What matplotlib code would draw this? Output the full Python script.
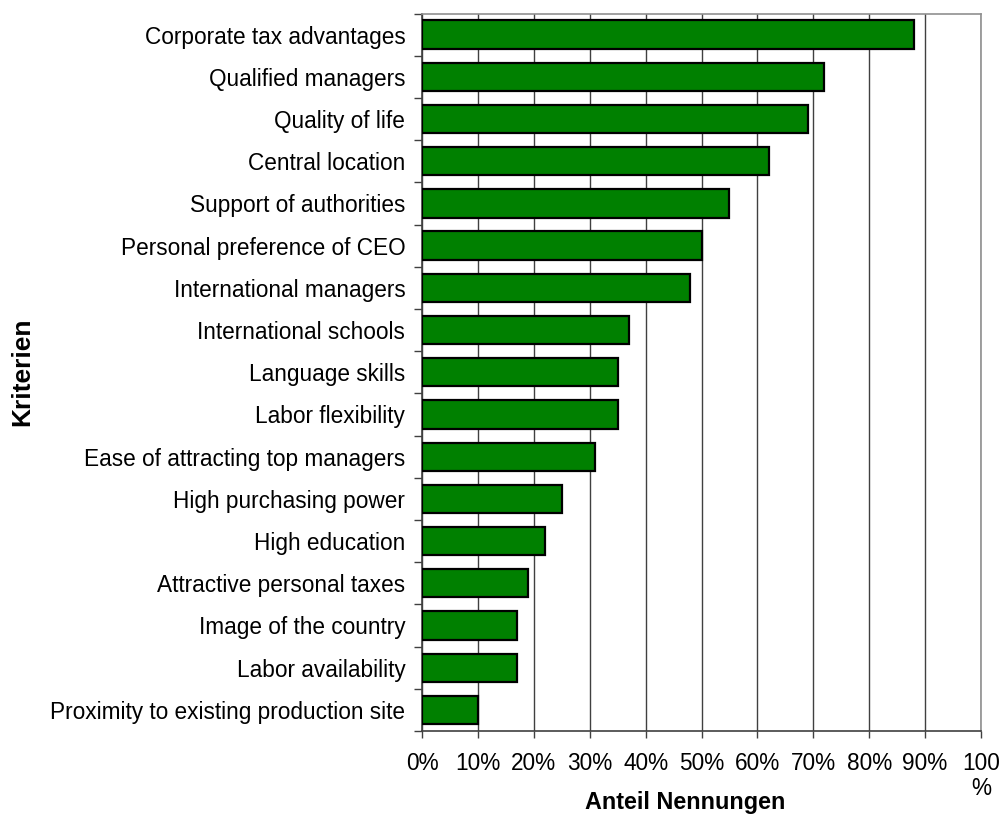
import matplotlib
matplotlib.use("Agg")
import matplotlib.pyplot as plt
import numpy as np

categories = [
    "Corporate tax advantages",
    "Qualified managers",
    "Quality of life",
    "Central location",
    "Support of authorities",
    "Personal preference of CEO",
    "International managers",
    "International schools",
    "Language skills",
    "Labor flexibility",
    "Ease of attracting top managers",
    "High purchasing power",
    "High education",
    "Attractive personal taxes",
    "Image of the country",
    "Labor availability",
    "Proximity to existing production site",
]
values = [88, 72, 69, 62, 55, 50, 48, 37, 35, 35, 31, 25, 22, 19, 17, 17, 10]
xticks = [0, 10, 20, 30, 40, 50, 60, 70, 80, 90, 100]
xticklabels = ["0%", "10%", "20%", "30%", "40%", "50%", "60%", "70%", "80%", "90%", "100\n%"]

plt.rcParams['font.family'] = ['Liberation Sans', 'DejaVu Sans']
FS = 16.3

fig = plt.figure(figsize=(10.02, 8.18), dpi=100)
ax = fig.add_axes([422/1002, 1 - 731/818, (981-422)/1002, (731-13.5)/818])

n = len(categories)
ypos = np.arange(n)
ax.barh(ypos, values, height=0.67, color="#008000", edgecolor="black", linewidth=1.6, zorder=3)

ax.set_xlim(0, 100)
ax.set_ylim(n - 0.5, -0.5)

ax.set_xticks(xticks)
ax.set_xticklabels(xticklabels, fontsize=FS, linespacing=1.1)
ax.tick_params(axis='x', direction='out', length=5, width=1, color="#404040", pad=10)
for lbl in ax.get_xticklabels():
    lbl.set_verticalalignment('top')

# major ticks at category boundaries, labels at centers (minor)
ax.set_yticks(np.arange(-0.5, n, 1.0))
ax.set_yticklabels([])
ax.tick_params(axis='y', which='major', direction='out', length=6, width=1, color="#404040")
ax.set_yticks(ypos, minor=True)
ax.set_yticklabels(categories, minor=True, fontsize=FS)
ax.tick_params(axis='y', which='minor', length=0, pad=12)

ax.grid(axis='x', color="#404040", linewidth=1, zorder=0)
ax.set_axisbelow(True)

for s in ['left', 'bottom']:
    ax.spines[s].set_color("#404040")
    ax.spines[s].set_linewidth(1.2)
for s in ['top', 'right']:
    ax.spines[s].set_color("#909090")
    ax.spines[s].set_linewidth(1.2)

ax.set_xlabel("Anteil Nennungen", fontsize=FS + 0.5, fontweight='bold')
ax.xaxis.set_label_coords((685-422)/(981-422), -(803-731)/(731-13.5), transform=ax.transAxes)
ax.xaxis.label.set_verticalalignment('center')
ax.set_ylabel("Kriterien", fontsize=19, fontweight='bold')
ax.yaxis.set_label_coords(-(422-22)/(981-422), (731-372)/(731-13.5))
ax.yaxis.label.set_verticalalignment('center')

fig.savefig("out.png", dpi=100)
